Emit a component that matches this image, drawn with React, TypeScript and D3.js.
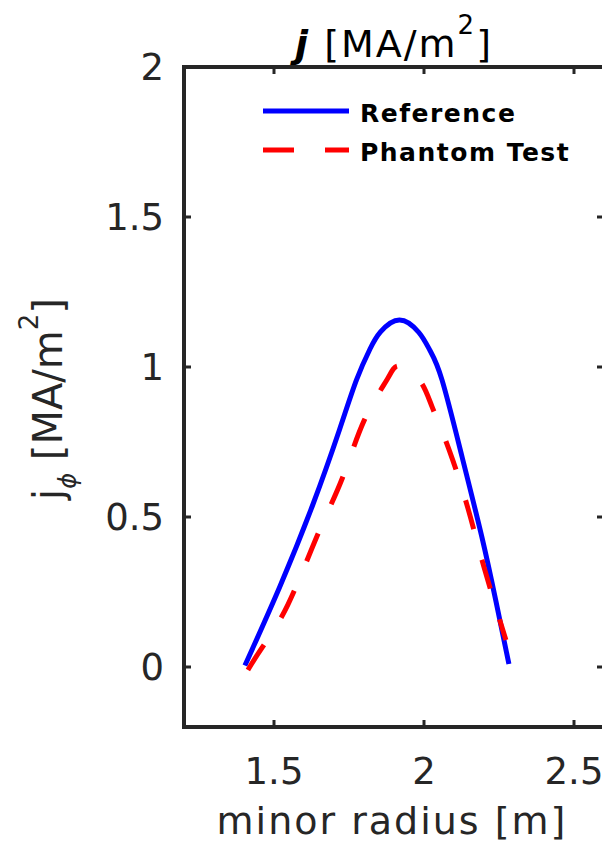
import React from "react";
import * as d3 from "d3";

const refX = [1.403, 1.519, 1.629, 1.718, 1.775, 1.82, 1.855, 1.918, 1.983, 2.02, 2.06, 2.127, 2.193, 2.24, 2.283];
const refY = [0.005, 0.267, 0.54, 0.79, 0.957, 1.06, 1.117, 1.157, 1.115, 1.055, 0.957, 0.7, 0.433, 0.218, 0.01];

const phX = [1.413, 1.462, 1.546, 1.645, 1.728, 1.801, 1.878, 1.918, 1.984, 2.027, 2.084, 2.147, 2.2, 2.273];
const phY = [-0.01, 0.067, 0.207, 0.44, 0.63, 0.823, 0.96, 1.003, 0.957, 0.867, 0.723, 0.527, 0.333, 0.09];

const xTicks = [1.5, 2, 2.5];
const yTicks = [0, 0.5, 1, 1.5, 2];
const seriesNames = ["Reference", "Phantom Test"];

export default function App() {
  const W = 602, H = 845;
  const x = d3.scaleLinear().domain([1.2, 2.6]).range([184, 604]);
  const y = d3.scaleLinear().domain([-0.2, 2]).range([727, 67]);
  const line = d3
    .line<[number, number]>()
    .x((d) => x(d[0]))
    .y((d) => y(d[1]))
    .curve(d3.curveNatural);
  const refPts: [number, number][] = refX.map((v, i) => [v, refY[i]]);
  const phPts: [number, number][] = phX.map((v, i) => [v, phY[i]]);
  const axisColor = "#262626";
  const font = "'DejaVu Sans', sans-serif";
  const [x0, x1] = x.range();
  const [yb, yt] = y.range();
  const tickLen = 7;

  return (
    <svg width={W} height={H} style={{ position: "absolute", left: 0, top: 0, background: "#fff" }}>
      <rect x={0} y={0} width={W} height={H} fill="#fff" />
      {/* curves */}
      <path d={line(refPts) || ""} fill="none" stroke="#0000ff" strokeWidth={5} strokeLinejoin="round" />
      <path d={line(phPts) || ""} fill="none" stroke="#ff0000" strokeWidth={5} strokeDasharray="30,32" />
      {/* box */}
      <rect x={x0} y={yt} width={x1 - x0} height={yb - yt} fill="none" stroke={axisColor} strokeWidth={4} />
      {/* ticks */}
      {xTicks.map((t) => (
        <g key={"xt" + t}>
          <line x1={x(t)} x2={x(t)} y1={yb} y2={yb - tickLen} stroke={axisColor} strokeWidth={3} />
          <line x1={x(t)} x2={x(t)} y1={yt} y2={yt + tickLen} stroke={axisColor} strokeWidth={3} />
          <text x={x(t)} y={784} textAnchor="middle" fontFamily={font} fontSize={37} fill={axisColor}>
            {String(t)}
          </text>
        </g>
      ))}
      {yTicks.map((t) => (
        <g key={"yt" + t}>
          <line x1={x0} x2={x0 + tickLen} y1={y(t)} y2={y(t)} stroke={axisColor} strokeWidth={3} />
          <line x1={x1} x2={x1 - tickLen} y1={y(t)} y2={y(t)} stroke={axisColor} strokeWidth={3} />
          <text x={164} y={y(t) + 13} textAnchor="end" fontFamily={font} fontSize={37} fill={axisColor}>
            {String(t)}
          </text>
        </g>
      ))}
      {/* x label */}
      <text x={(x0 + x1) / 2 - 2} y={834} textAnchor="middle" fontFamily={font} fontSize={38} letterSpacing={2} fill={axisColor}>
        minor radius [m]
      </text>
      {/* y label */}
      <text
        transform={`translate(62, 399) rotate(-90)`}
        textAnchor="middle"
        fontFamily={font}
        fontSize={40}
        fill={axisColor}
      >
        j
        <tspan fontSize={24} fontStyle="italic" dy={14}>ϕ</tspan>
        <tspan dy={-14}> [MA/m</tspan>
        <tspan fontSize={26} dy={-24}>2</tspan>
        <tspan dy={24}>]</tspan>
      </text>
      {/* title */}
      <text x={(x0 + x1) / 2} y={57} textAnchor="middle" fontFamily={font} fontSize={38} letterSpacing={2} fill="#000">
        <tspan fontWeight="bold" fontStyle="italic">j</tspan>
        <tspan> [MA/m</tspan>
        <tspan fontSize={26} dy={-23}>2</tspan>
        <tspan dy={23}>]</tspan>
      </text>
      {/* legend */}
      <line x1={263} x2={349} y1={111} y2={111} stroke="#0000ff" strokeWidth={5} />
      <line x1={263} x2={349} y1={150} y2={150} stroke="#ff0000" strokeWidth={5} strokeDasharray="31,31" />
      <text x={360} y={122} fontFamily={font} fontWeight="bold" fontSize={25} letterSpacing={1.5} fill="#000">
        {seriesNames[0]}
      </text>
      <text x={360} y={161} fontFamily={font} fontWeight="bold" fontSize={25} letterSpacing={1.5} fill="#000">
        {seriesNames[1]}
      </text>
    </svg>
  );
}
